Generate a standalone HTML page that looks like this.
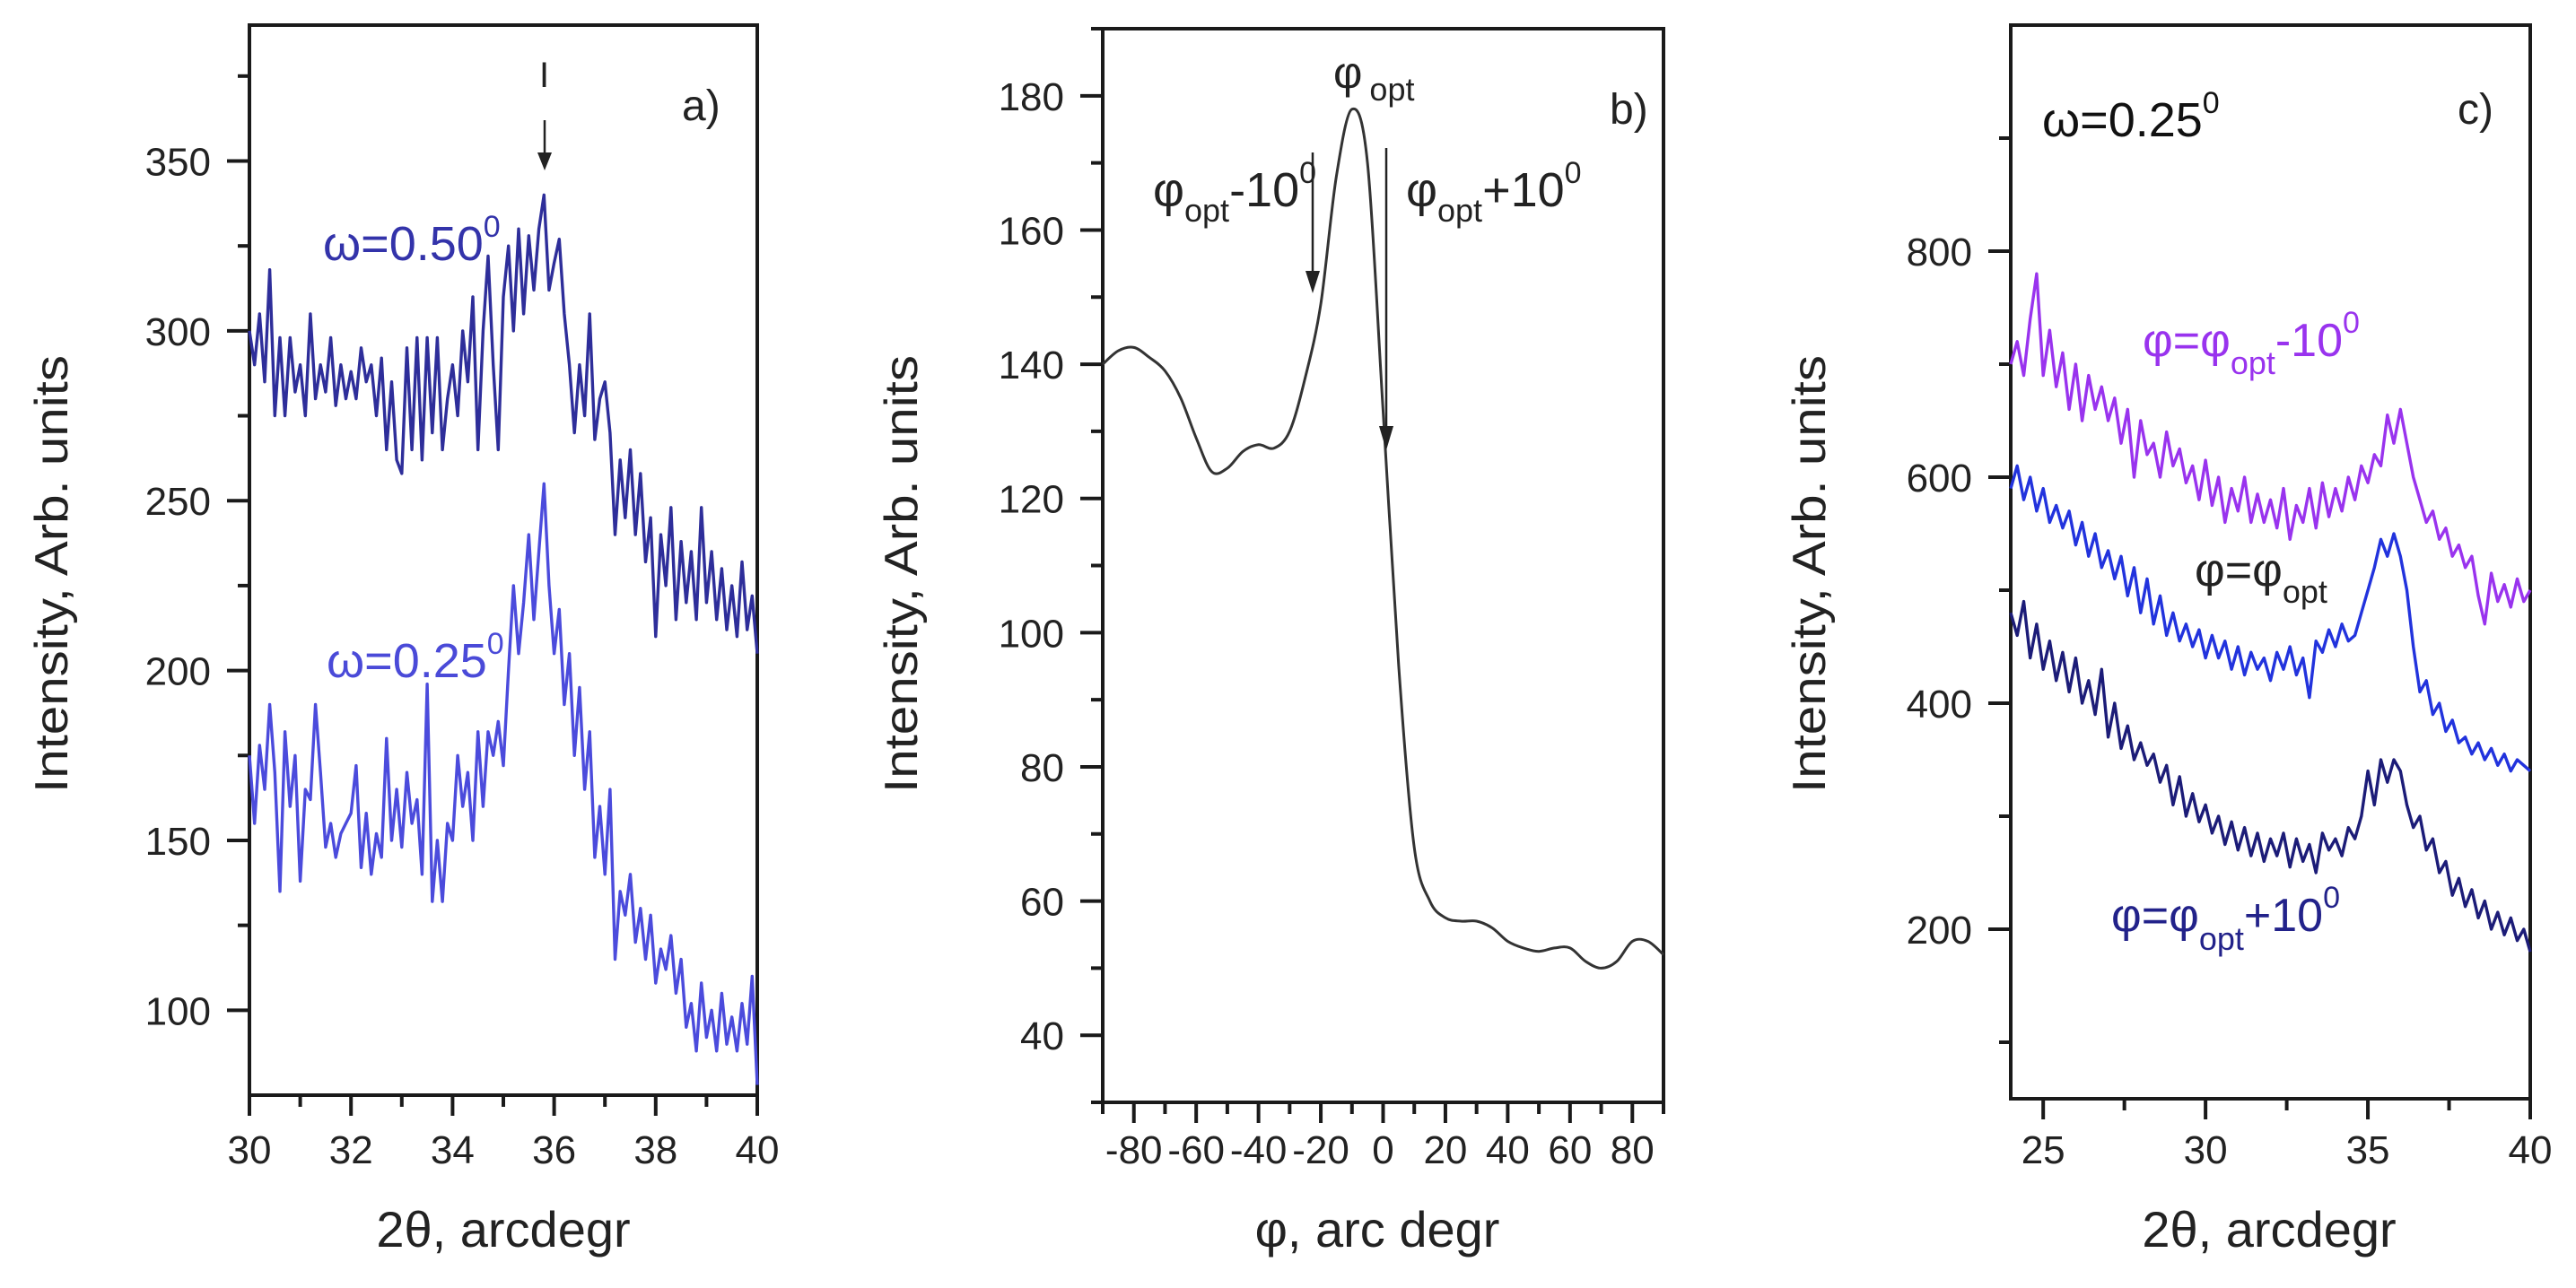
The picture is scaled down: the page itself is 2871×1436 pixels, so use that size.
<!DOCTYPE html>
<html><head><meta charset="utf-8">
<style>
html,body{margin:0;padding:0;background:#fff;}
svg{display:block;font-family:"Liberation Sans",Arial,sans-serif;}
</style></head>
<body>
<svg id="fig" width="2871" height="1436" viewBox="0 0 2871 1436" xmlns="http://www.w3.org/2000/svg">
<rect width="2871" height="1436" fill="#fff"/>
<g id="pa"></g>
<g id="pb"></g>
<g id="pc"></g>

<!-- panel a annotations -->
<text x="760" y="134" font-size="48" fill="#222">a)</text>
<text x="601" y="97" font-size="40" fill="#222">I</text>
<line x1="607" y1="134" x2="607" y2="172" stroke="#222" stroke-width="2.5"/>
<polygon points="599,170 615,170 607,190" fill="#222"/>
<text x="360" y="290" font-size="54" fill="#3333aa">ω=0.50<tspan font-size="34" dy="-26">0</tspan></text>
<text x="364" y="755" font-size="54" fill="#4a4ad8">ω=0.25<tspan font-size="34" dy="-26">0</tspan></text>

<!-- panel b annotations -->
<text x="1794" y="138" font-size="48" fill="#222">b)</text>
<text x="1486" y="98" font-size="50" fill="#222">φ<tspan font-size="36" dx="8" dy="14">opt</tspan></text>
<line x1="1463" y1="170" x2="1463" y2="305" stroke="#222" stroke-width="2.5"/>
<polygon points="1455,302 1471,302 1463,327" fill="#222"/>
<line x1="1545" y1="165" x2="1545" y2="478" stroke="#222" stroke-width="2.5"/>
<polygon points="1537,475 1553,475 1545,502" fill="#222"/>
<text x="1285" y="230" font-size="54" fill="#222">φ<tspan font-size="36" dy="17">opt</tspan><tspan dy="-17">-10</tspan><tspan font-size="34" dy="-26">0</tspan></text>
<text x="1567" y="230" font-size="54" fill="#222">φ<tspan font-size="36" dy="17">opt</tspan><tspan dy="-17">+10</tspan><tspan font-size="34" dy="-26">0</tspan></text>

<!-- panel c annotations -->
<text x="2739" y="138" font-size="48" fill="#222">c)</text>
<text x="2276" y="152" font-size="54" fill="#111">ω=0.25<tspan font-size="34" dy="-26">0</tspan></text>
<text x="2388" y="397" font-size="52" fill="#9933ee">φ=φ<tspan font-size="36" dy="20">opt</tspan><tspan dy="-20">-10</tspan><tspan font-size="34" dy="-26">0</tspan></text>
<text x="2446" y="653" font-size="52" fill="#222">φ=φ<tspan font-size="36" dy="19">opt</tspan></text>
<text x="2353" y="1038" font-size="52" fill="#22228a">φ=φ<tspan font-size="36" dy="21">opt</tspan><tspan dy="-21">+10</tspan><tspan font-size="34" dy="-26">0</tspan></text>
</svg>

<script>
// ---------- Panel a data ----------
const aX0 = 30, aStep = 0.1;
const aOmega050 = [300,290,305,285,318,275,298,275,298,282,
 290,275,305,280,290,282,298,278,290,280,
 288,280,295,285,290,275,292,265,285,262,
 258,295,265,298,262,298,270,298,265,280,
 290,275,300,285,310,265,300,322,290,265,
 310,325,300,330,305,328,312,330,340,312,
 320,327,305,290,270,290,275,305,268,280,
 285,270,240,262,245,265,240,258,232,245,
 210,240,225,248,215,238,220,235,215,248,
 220,235,215,230,212,225,210,232,212,222,205];
const aOmega025 = [175,155,178,165,190,170,135,182,160,175,
 138,165,162,190,170,148,155,145,152,155,
 158,172,142,158,140,152,145,180,150,165,
 148,170,155,162,140,196,132,150,132,155,
 150,175,160,170,150,182,160,182,175,185,
 172,200,225,205,220,240,215,235,255,225,
 205,218,190,205,175,195,165,182,145,160,
 140,165,115,135,128,140,120,130,115,128,
 108,118,112,122,105,115,95,102,88,108,
 92,100,88,105,90,98,88,102,90,110,78];
const aXTicks = [30,32,34,36,38,40];
const aYTicks = [100,150,200,250,300,350];

// ---------- Panel b data ----------
const bPhi = [-90,-85,-80,-75,-70,-65,-60,-55,-50,-45,-40,-35,-30,-25,-20,-15,-10,-5,0,5,10,15,20,25,30,35,40,45,50,55,60,65,70,75,80,85,90];
const bIntensity = [140,142,142.5,141,139,135,129,124,124.5,127,128,127.5,130,138,149,168,178,170,133,95,68,60,57.5,57,57,56,54,53,52.5,53,53,51,50,51,54,54,52];
const bXTicks = [-80,-60,-40,-20,0,20,40,60,80];
const bYTicks = [40,60,80,100,120,140,160,180];

// ---------- Panel c data ----------
const cX0 = 24, cStep = 0.2;
const cPhiMinus10 = [700,720,690,740,780,690,730,680,710,660,
 700,650,690,660,680,650,670,630,660,600,
 650,620,630,600,640,610,625,595,610,580,
 615,575,600,560,590,570,600,560,585,560,
 580,555,590,545,575,560,590,555,595,565,
 590,570,600,580,610,595,620,610,655,630,
 660,630,600,580,560,570,545,555,530,540,
 520,530,495,470,515,490,505,485,510,490,500];
const cPhiOpt = [590,610,580,600,570,590,560,575,555,570,
 540,560,530,550,520,535,510,530,495,520,
 480,510,470,495,460,480,455,470,450,465,
 440,460,440,455,430,450,425,445,430,440,
 420,445,430,450,425,440,405,455,445,465,
 450,470,455,460,480,500,520,545,530,550,
 530,500,450,410,420,390,400,375,385,365,
 370,355,365,350,360,345,355,340,350,345,340];
const cPhiPlus10 = [480,460,490,440,470,430,455,420,445,410,
 440,400,420,390,430,370,400,360,380,350,
 365,345,355,330,345,310,335,300,320,295,
 310,285,300,275,295,270,290,265,285,260,
 280,265,285,255,280,260,275,250,285,270,
 280,265,290,280,300,340,310,350,330,350,
 340,310,290,300,270,280,250,260,230,245,
 220,235,210,225,200,215,195,210,190,200,180];
const cXTicks = [25,30,35,40];
const cYTicks = [200,400,600,800];

const NS = 'http://www.w3.org/2000/svg';
function mk(tag, attrs, parent){
  const e = document.createElementNS(NS, tag);
  for (const k in attrs) e.setAttribute(k, attrs[k]);
  parent.appendChild(e);
  return e;
}
function scale(d0,d1,r0,r1){ return v => r0 + (v-d0)*(r1-r0)/(d1-d0); }

function drawAxes(g, P, cfg){
  const sx = scale(P.xmin,P.xmax,P.L,P.R), sy = scale(P.ymin,P.ymax,P.B,P.T);
  const frame = mk('rect',{x:P.L,y:P.T,width:P.R-P.L,height:P.B-P.T,fill:'none',stroke:'#1a1a1a','stroke-width':4},g);
  
  
  cfg.xMajor.forEach(v=>{
    const x=sx(v);
    const t=mk('line',{x1:x,y1:P.B,x2:x,y2:P.B+23,stroke:'#1a1a1a','stroke-width':4},g);
    
    
    const l=mk('text',{x:x,y:1297,'font-size':44,'text-anchor':'middle',fill:'#222'},g);
    l.textContent=String(v);
    
    
  });
  cfg.xMinor.forEach(v=>{
    const x=sx(v);
    const t=mk('line',{x1:x,y1:P.B,x2:x,y2:P.B+13,stroke:'#1a1a1a','stroke-width':4},g);
    
    
  });
  cfg.yMajor.forEach(v=>{
    const y=sy(v);
    const t=mk('line',{x1:P.L-25,y1:y,x2:P.L,y2:y,stroke:'#1a1a1a','stroke-width':4},g);
    
    
    const l=mk('text',{x:P.L-43,y:y+16,'font-size':44,'text-anchor':'end',fill:'#222'},g);
    l.textContent=String(v);
    
    
  });
  cfg.yMinor.forEach(v=>{
    const y=sy(v);
    const t=mk('line',{x1:P.L-13,y1:y,x2:P.L,y2:y,stroke:'#1a1a1a','stroke-width':4},g);
    
    
  });
  const xt=mk('text',{x:cfg.xtX,y:1390,'font-size':56,'text-anchor':'middle',fill:'#222'},g);
  xt.textContent=cfg.xTitle;
  
  
  const yt=mk('text',{x:0,y:0,'font-size':52,'text-anchor':'middle',fill:'#222',textLength:488,lengthAdjust:'spacingAndGlyphs',transform:`translate(${cfg.ytX},640) rotate(-90)`},g);
  yt.textContent='Intensity, Arb. units';
  
  
  return {sx,sy};
}
function linePath(xs, ys, sx, sy){
  return xs.map((x,i)=>(i?'L':'M')+sx(x).toFixed(1)+','+sy(ys[i]).toFixed(1)).join('');
}
function smoothPath(xs, ys, sx, sy){
  const p = xs.map((x,i)=>[sx(x),sy(ys[i])]);
  let d='M'+p[0][0].toFixed(1)+','+p[0][1].toFixed(1);
  for(let i=0;i<p.length-1;i++){
    const p0=p[Math.max(0,i-1)],p1=p[i],p2=p[i+1],p3=p[Math.min(p.length-1,i+2)];
    const c1=[p1[0]+(p2[0]-p0[0])/6,p1[1]+(p2[1]-p0[1])/6];
    const c2=[p2[0]-(p3[0]-p1[0])/6,p2[1]-(p3[1]-p1[1])/6];
    d+=`C${c1[0].toFixed(1)},${c1[1].toFixed(1)} ${c2[0].toFixed(1)},${c2[1].toFixed(1)} ${p2[0].toFixed(1)},${p2[1].toFixed(1)}`;
  }
  return d;
}
function grid(x0, step, n){ const a=[]; for(let i=0;i<n;i++) a.push(+(x0+i*step).toFixed(3)); return a; }
function range(a,b,s){ const r=[]; for(let v=a; v<=b+1e-9; v+=s) r.push(+v.toFixed(3)); return r; }

// Panel a
(function(){
  const g=document.getElementById('pa');
  const P={L:278,R:844,T:28,B:1221,xmin:30,xmax:40,ymin:75,ymax:390};
  const {sx,sy}=drawAxes(g,P,{xMajor:aXTicks,xMinor:range(31,39,2),yMajor:aYTicks,yMinor:range(125,375,50),xTitle:'2θ, arcdegr',xtX:561,ytX:75});
  const xs=grid(aX0,aStep,aOmega050.length);
  const p1=mk('path',{d:linePath(xs,aOmega050,sx,sy),fill:'none',stroke:'#2e2e9a','stroke-width':3.4,'stroke-linejoin':'round'},g);
  
  
  const xs2=grid(aX0,aStep,aOmega025.length);
  const p2=mk('path',{d:linePath(xs2,aOmega025,sx,sy),fill:'none',stroke:'#4b4bdc','stroke-width':3.4,'stroke-linejoin':'round'},g);
  
  
})();

// Panel b
(function(){
  const g=document.getElementById('pb');
  const P={L:1229,R:1854,T:32,B:1229,xmin:-90,xmax:90,ymin:30,ymax:190};
  const {sx,sy}=drawAxes(g,P,{xMajor:bXTicks,xMinor:range(-90,90,20),yMajor:bYTicks,yMinor:range(30,190,20),xTitle:'φ, arc degr',xtX:1535,ytX:1022});
  const p=mk('path',{d:smoothPath(bPhi,bIntensity,sx,sy),fill:'none',stroke:'#333','stroke-width':3},g);
  
  
})();

// Panel c
(function(){
  const g=document.getElementById('pc');
  const P={L:2241,R:2820,T:28,B:1225,xmin:24,xmax:40,ymin:50,ymax:1000};
  const {sx,sy}=drawAxes(g,P,{xMajor:cXTicks,xMinor:[27.5,32.5,37.5],yMajor:cYTicks,yMinor:range(100,900,200),xTitle:'2θ, arcdegr',xtX:2529,ytX:2034});
  const xs=grid(cX0,cStep,cPhiMinus10.length);
  const s1=mk('path',{d:linePath(xs,cPhiMinus10,sx,sy),fill:'none',stroke:'#9933ee','stroke-width':3.4,'stroke-linejoin':'round'},g);
  
  
  const s2=mk('path',{d:linePath(grid(cX0,cStep,cPhiOpt.length),cPhiOpt,sx,sy),fill:'none',stroke:'#2233dd','stroke-width':3.4,'stroke-linejoin':'round'},g);
  
  
  const s3=mk('path',{d:linePath(grid(cX0,cStep,cPhiPlus10.length),cPhiPlus10,sx,sy),fill:'none',stroke:'#1c1c78','stroke-width':3.4,'stroke-linejoin':'round'},g);
  
  
})();
</script>
</body></html>
